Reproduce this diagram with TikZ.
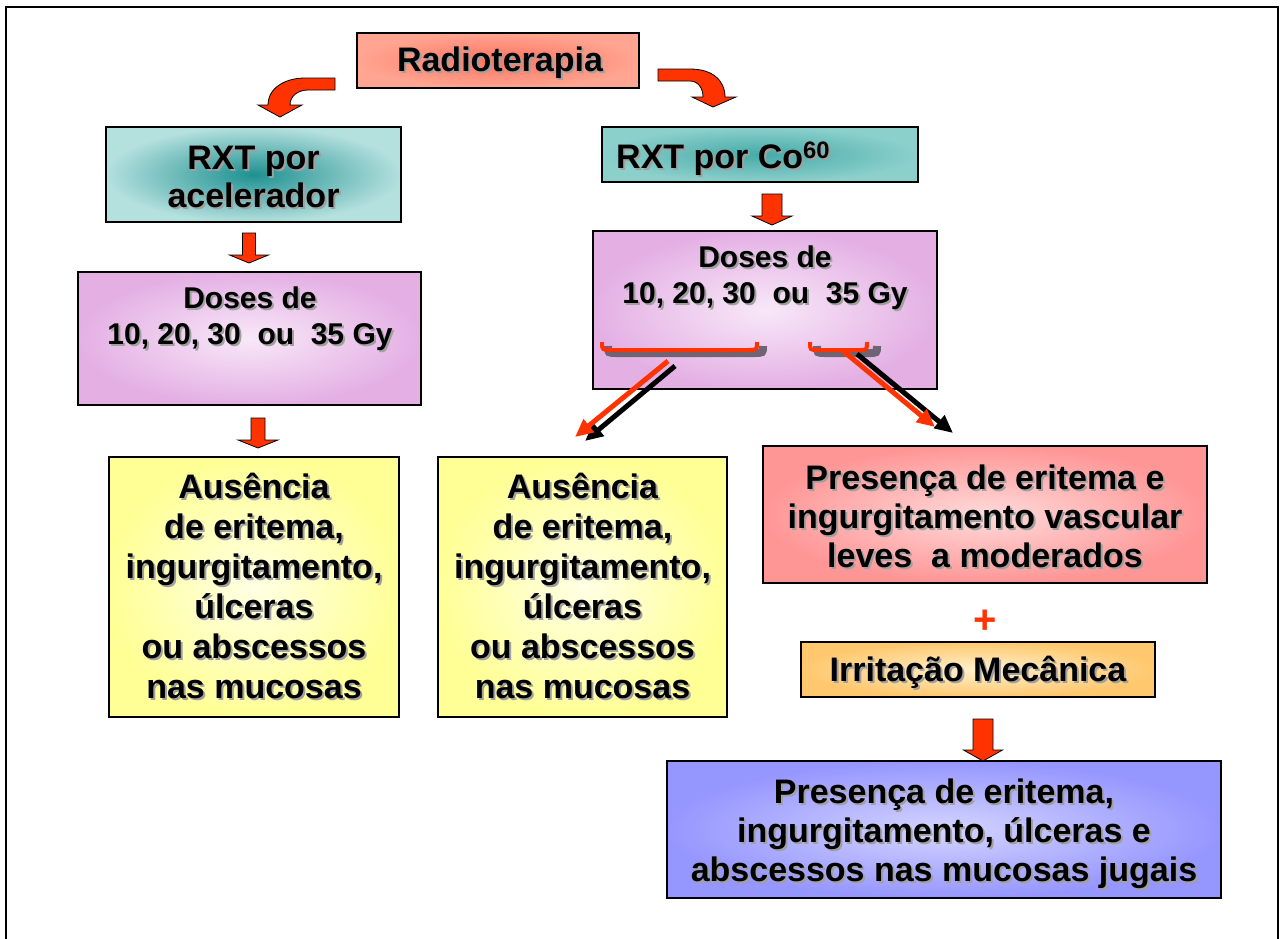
\documentclass[tikz,border=0pt]{standalone}
\usepackage{fontspec}
\setmainfont{Liberation Sans}
\usetikzlibrary{arrows.meta,fit,calc}
\definecolor{redA}{RGB}{255,51,0}
\definecolor{radIn}{RGB}{255,115,95}
\definecolor{radOut}{RGB}{255,165,145}
\definecolor{acelIn}{RGB}{30,145,145}
\definecolor{acelOut}{RGB}{180,224,222}
\definecolor{coIn}{RGB}{70,170,168}
\definecolor{coOut}{RGB}{140,208,204}
\definecolor{doseIn}{RGB}{248,232,248}
\definecolor{doseOut}{RGB}{228,176,228}
\definecolor{yelIn}{RGB}{255,255,228}
\definecolor{yelOut}{RGB}{255,255,150}
\definecolor{pinkIn}{RGB}{255,218,218}
\definecolor{pinkOut}{RGB}{255,150,150}
\definecolor{orgIn}{RGB}{255,240,205}
\definecolor{orgOut}{RGB}{255,200,110}
\definecolor{bluIn}{RGB}{212,212,255}
\definecolor{bluOut}{RGB}{150,150,255}
\definecolor{tshadow}{RGB}{160,160,160}
\definecolor{bshadow}{RGB}{110,100,115}
\newcommand\sh[1]{\leavevmode\rlap{\hspace{2pt}\raisebox{-2pt}{\textcolor{tshadow}{#1}}}#1}
\newcommand\bigf{\bfseries\fontsize{34}{40}\selectfont}
\newcommand\barrow[6]{\draw[barr] (#1-#4,#2) -- (#1+#4,#2) -- (#1+#4,#3-#6) -- (#1+#5,#3-#6) -- (#1,#3) -- (#1-#5,#3-#6) -- (#1-#4,#3-#6) -- cycle;}
\begin{document}
\begin{tikzpicture}[x=1pt,y=-1pt,
  box/.style={draw=black, line width=1.6pt, inner sep=0pt},
  txt/.style={align=center, inner sep=0pt, font=\bigf},
  barr/.style={fill=redA, draw=black, line width=0.8pt, line join=miter},
  diag/.style={line width=5pt, -{Triangle[length=18pt,width=16pt]}}]
\useasboundingbox (0,0) rectangle (1283,938);
\fill[white] (0,0) rectangle (1283,938);
\draw[line width=2.5pt] (6,940) -- (6,7) -- (1278,7) -- (1278,940);

% boxes
\node[box, inner color=radIn, outer color=radOut, fit={(357,33) (639,88)}] (rad) {};
\node[txt] (radT) at ($(rad.center)+(2,3)$) {\sh{Radioterapia}};

\node[box, inner color=acelIn, outer color=acelOut, fit={(106,127) (401,222)}] (acel) {};
\node[txt, font=\bfseries\fontsize{34}{38}\selectfont] (acelT) at ($(acel.center)+(0,3)$) {\sh{RXT por}\\\sh{acelerador}};

\node[box, inner color=coIn, outer color=coOut, fit={(602,127) (918,182)}] (co) {};
\node[txt, anchor=base west] (coT) at (616,168) {\sh{RXT por Co\textsuperscript{60}}};

\node[box, inner color=doseIn, outer color=doseOut, fit={(78,272) (421,405)}] (doseL) {};
\node[txt, font=\bfseries\fontsize{30}{36}\selectfont] (doseLT) at (250,320) {\sh{Doses de}\\\sh{10, 20, 30 \ ou \ 35 Gy}};

\node[box, inner color=doseIn, outer color=doseOut, fit={(593,231) (937,389)}] (doseR) {};
\node[txt, font=\bfseries\fontsize{30}{36}\selectfont] (doseRT) at (765,279) {\sh{Doses de}\\\sh{10, 20, 30 \ ou \ 35 Gy}};

\node[box, inner color=yelIn, outer color=yelOut, fit={(109,457) (399,717)}] (yelL) {};
\node[txt] (yelLT) at (yelL.center) {\sh{Ausência}\\\sh{de eritema,}\\\sh{ingurgitamento,}\\\sh{úlceras}\\\sh{ou abscessos}\\\sh{nas mucosas}};

\node[box, inner color=yelIn, outer color=yelOut, fit={(438,457) (727,717)}] (yelM) {};
\node[txt] (yelMT) at (yelM.center) {\sh{Ausência}\\\sh{de eritema,}\\\sh{ingurgitamento,}\\\sh{úlceras}\\\sh{ou abscessos}\\\sh{nas mucosas}};

\node[box, inner color=pinkIn, outer color=pinkOut, fit={(763,446) (1207,583)}] (pink) {};
\node[txt, font=\bfseries\fontsize{34}{39}\selectfont] (pinkT) at ($(pink.center)+(0,2.5)$) {\sh{Presença de eritema e}\\\sh{ingurgitamento vascular}\\\sh{leves \ a moderados}};

\node[text=redA, font=\bfseries\fontsize{40}{40}\selectfont, inner sep=0pt] (plus) at (985,622) {+};

\node[box, inner color=orgIn, outer color=orgOut, fit={(801,642) (1155,697)}] (irr) {};
\node[txt] (irrT) at ($(irr.center)+(0,4)$) {\sh{Irritação Mecânica}};

\node[box, inner color=bluIn, outer color=bluOut, fit={(667,761) (1221,898)}] (blu) {};
\node[txt, font=\bfseries\fontsize{34}{39}\selectfont] (bluT) at ($(blu.center)+(0,5)$) {\sh{Presença de eritema,}\\\sh{ingurgitamento, úlceras e}\\\sh{abscessos nas mucosas jugais}};

% curved arrows from Radioterapia
\draw[barr] (335,78) -- (305,78) .. controls (285,78) and (268,88) .. (268,105) -- (258,105) -- (280,117) -- (302,105) -- (290,105) .. controls (290,96) and (298,90) .. (308,90) -- (335,90) -- cycle;
\draw[barr] (658,69) -- (690,69) .. controls (712,69) and (725,80) .. (725,97) -- (736,97) -- (713,107) -- (692,97) -- (703,97) .. controls (703,88) and (698,81) .. (690,81) -- (658,81) -- cycle;

% block arrows
\barrow{249}{233}{263}{6.5}{19.5}{8}
\barrow{258}{418}{448}{7}{20}{8}
\barrow{772}{194}{225}{10}{20}{9}
\barrow{983}{719}{761}{10}{19.5}{11}

% braces in right Doses box
\draw[line width=8pt, bshadow] (608,346) .. controls (608,353) .. (617,353) -- (754,353) .. controls (763,353) .. (763,346);
\draw[line width=4pt, redA] (602,342) .. controls (602,350) .. (612,350) -- (747,350) .. controls (757,350) .. (757,342);
\draw[line width=8pt, bshadow] (817,346) .. controls (817,353) .. (825,353) -- (869,353) .. controls (877,353) .. (877,346);
\draw[line width=4pt, redA] (810,342) .. controls (810,350) .. (818,350) -- (859,350) .. controls (867,350) .. (867,342);

% diagonal arrows
\coordinate (lbk0) at (675,366); \coordinate (lbk1) at (585,441);
\coordinate (lrd0) at (668,361); \coordinate (lrd1) at (575,437);
\coordinate (rbk0) at (857,354); \coordinate (rbk1) at (953,433);
\coordinate (rrd0) at (842,350); \coordinate (rrd1) at (935,427);
\draw[diag, black] (lbk0) -- (lbk1);
\draw[diag, redA] (lrd0) -- (lrd1);
\draw[diag, black] (rbk0) -- (rbk1);
\draw[diag, redA] (rrd0) -- (rrd1);
\end{tikzpicture}
\end{document}
